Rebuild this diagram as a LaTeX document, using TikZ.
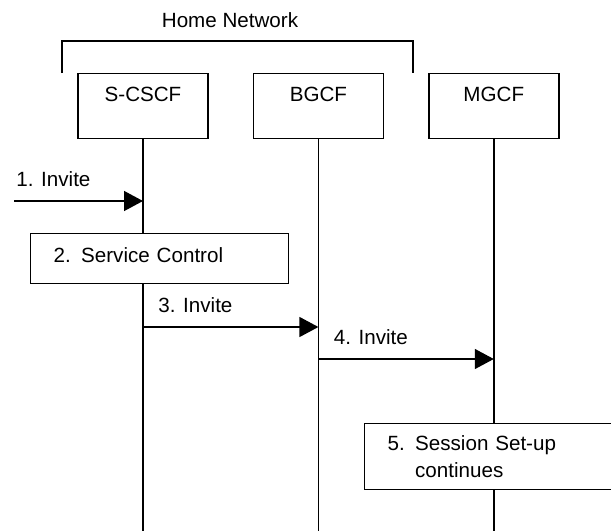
\documentclass[tikz,border=0pt]{standalone}
\usepackage{fontspec}
\setmainfont{Liberation Sans}
\usetikzlibrary{arrows.meta, positioning}

\begin{document}
\begin{tikzpicture}[
    x=0.5pt, y=-0.5pt,
    node distance=22pt,
    every node/.style={font=\fontsize{10.3}{13.2}\selectfont},
    entity/.style={draw, line width=0.7pt, anchor=north, inner sep=0pt, minimum width=65pt, text height=14pt, text depth=18.5pt},
    action/.style={draw, fill=white, line width=0.7pt, anchor=north west, align=left, inner xsep=11.5pt, inner ysep=0pt},
    lbl/.style={inner sep=0pt},
    life/.style={line width=0.7pt},
    msg/.style={-{Triangle[length=9.5pt, width=10pt]}, line width=0.7pt}
]
\useasboundingbox (0,0) rectangle (611,531);
\clip (0,0) rectangle (611,531);

% home network bracket
\node (home) at (230,20) {Home Network};
\draw[line width=0.8pt] (62,73) -- (62,41) -- (413,41) -- (413,73);

% entities
\node[entity] (scscf) at (143,73) {S-CSCF};
\node[entity, right=of scscf] (bgcf) {BGCF};
\node[entity, right=of bgcf] (mgcf) {MGCF};

% lifelines
\coordinate (bottom) at (0,531);
\draw[life] (scscf) -- (scscf |- bottom);
\draw[life] (bgcf) -- (bgcf |- bottom);
\draw[life] (mgcf) -- (mgcf |- bottom);

% 1. invite
\coordinate (m1) at (14,201);
\draw[msg] (m1) -- (m1 -| scscf);
\node[lbl, above right=7pt and 1pt of m1] {1. Invite};

% 2. service control
\node[action, text width=106pt, text height=14.5pt, text depth=10.5pt] (svc) at (30,233) {2. Service Control};

% 3. invite
\coordinate (m3) at (scscf |- 0,327);
\draw[msg] (m3) -- (m3 -| bgcf);
\node[lbl, above right=7pt and 7.5pt of m3] {3. Invite};

% 4. invite
\coordinate (m4) at (bgcf |- 0,359);
\draw[msg] (m4) -- (m4 -| mgcf);
\node[lbl, above right=7pt and 7.5pt of m4] {4. Invite};

% 5. session set-up
\node[action, text width=117pt, minimum height=33pt] (setup) at (364,423) {5. Session Set-up\\\phantom{5. }continues};
\end{tikzpicture}
\end{document}
